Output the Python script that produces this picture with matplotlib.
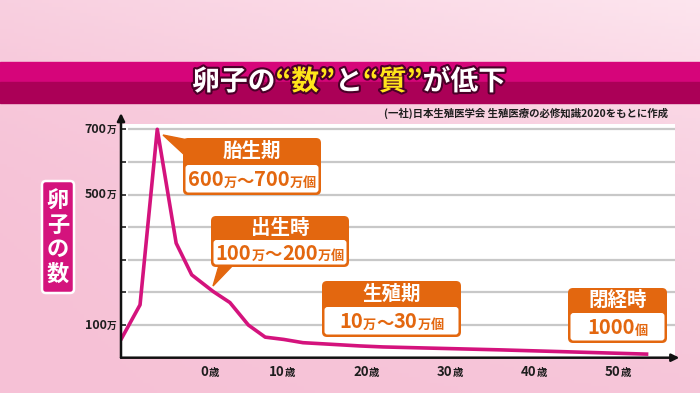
import matplotlib
matplotlib.use('Agg')
import matplotlib.pyplot as plt
import numpy as np
from matplotlib.patches import FancyBboxPatch, Polygon, Rectangle
from matplotlib.transforms import Affine2D
from matplotlib.offsetbox import TextArea, HPacker, AnnotationBbox
import matplotlib.patheffects as pe

plt.rcParams['font.family'] = ['Noto Sans CJK JP', 'DejaVu Sans']

# ---------------- data ----------------
ages = [-9.1, -6.9, -4.85, -2.6, -0.75, 1.8, 3.8, 6.0, 8.0, 10.2, 12.5, 19.3, 22.0, 36.0, 53.4]
counts = [59, 162, 700, 351, 254, 203, 169, 100, 63, 56, 46, 36, 33, 24, 11]   # 万個
ytick_values = [100, 200, 300, 400, 500, 600, 700]
ytick_labels = ['100', '', '', '', '500', '', '700']
xtick_pos = [1.4, 10, 20, 30, 40, 50]
xtick_labels = ['0', '10', '20', '30', '40', '50']
title_parts = ['卵子の', '“数”', 'と', '“質”', 'が低下']
source_text = '(一社)日本生殖医学会 生殖医療の必修知識2020をもとに作成'
ylabel_text = '卵子の数'
stage_names = ['胎生期', '出生時', '生殖期', '閉経時']
stage_ranges = [['600', '700'], ['100', '200'], ['10', '30'], ['1000']]

# ---------------- colours ----------------
MAGENTA = '#d4137d'
ORANGE = '#e3670f'
DARK = '#1e1e1e'

W, H = 700, 393
fig = plt.figure(figsize=(W / 100, H / 100), dpi=100)
# transform: pixel coordinates with origin top-left
P = Affine2D().scale(1 / 100, -1 / 100).translate(0, H / 100) + fig.dpi_scale_trans

# background gradient
bg = fig.add_axes([0, 0, 1, 1], zorder=-5)
bg.axis('off')
xx, yy = np.meshgrid(np.linspace(0, 1, 200), np.linspace(0, 1, 120))
w = np.clip(0.45 * xx * yy + 0.4 * yy ** 3 + 0.12 * xx, 0, 1)
c0 = np.array([246, 193, 214]) / 255
c1 = np.array([253, 230, 239]) / 255
img = c0[None, None, :] * (1 - w[..., None]) + c1[None, None, :] * w[..., None]
bg.imshow(img, extent=[0, 1, 0, 1], origin='lower', aspect='auto')
bg.set_xlim(0, 1); bg.set_ylim(0, 1)

# title band
fig.add_artist(Rectangle((0, 62), W, 20, transform=P, color='#d6057a', zorder=1))
fig.add_artist(Rectangle((0, 82), W, 21, transform=P, color='#ab0057', zorder=1))

stroke = [pe.withStroke(linewidth=3, foreground='#4a0028')]
tcolors = ['white', '#ffe51a', 'white', '#ffe51a', 'white']
areas = [TextArea(t, textprops=dict(color=c, fontsize=20, fontweight='bold', path_effects=stroke))
         for t, c in zip(title_parts, tcolors)]
pack = HPacker(children=areas, align='baseline', pad=0, sep=0)
fig.add_artist(AnnotationBbox(pack, (349, 82), xycoords=P, frameon=False,
                              box_alignment=(0.5, 0.5), zorder=3))

# source
fig.text(668 / W, 1 - 113 / H, source_text, ha='right', va='center', fontsize=7.5,
         fontweight='bold', color=DARK)

# ---------------- main axes ----------------
left, right, top, bottom = 121, 675, 124, 357.7
ax = fig.add_axes([left / W, 1 - bottom / H, (right - left) / W, (bottom - top) / H], zorder=0)
ax.set_facecolor('white')
px_per_year = 8.4
zero_px = 198
ax.set_xlim((left - zero_px) / px_per_year, (right - zero_px) / px_per_year)
ax.set_ylim(0, (bottom - top) / 32.63 * 100)
for s in ax.spines.values():
    s.set_visible(False)

ax.hlines(ytick_values, 0.013, 1, transform=ax.get_yaxis_transform(), color='#c8c8c8', lw=1.6, zorder=1)
ax.plot(ages, counts, color=MAGENTA, lw=2.6, zorder=3, solid_joinstyle='round')

ax.set_yticks(ytick_values)
ax.set_yticklabels([])
ax.tick_params(axis='y', direction='in', length=3.5, width=1.2, color=DARK)
ax.set_xticks([])

# axes arrows
arr = dict(arrowstyle='-|>,head_length=0.45,head_width=0.22', lw=1.8, color='#111', shrinkA=0, shrinkB=0)
ax.annotate('', xy=(0, 1.047), xytext=(0, 0), xycoords='axes fraction', arrowprops=arr, zorder=5)
ax.annotate('', xy=(1.008, 0), xytext=(0, 0), xycoords='axes fraction', arrowprops=arr, zorder=5)

# y tick labels (number + small 万)
for v, lab in zip(ytick_values, ytick_labels):
    if not lab:
        continue
    pk = HPacker(children=[TextArea(lab, textprops=dict(fontsize=9, fontweight='bold', color=DARK)),
                           TextArea('万', textprops=dict(fontsize=7, fontweight='bold', color=DARK))],
                 align='baseline', pad=0, sep=0)
    ax.add_artist(AnnotationBbox(pk, (0, v), xycoords=ax.get_yaxis_transform(), xybox=(-3.5, 0),
                                 boxcoords='offset points', frameon=False, box_alignment=(1, 0.5),
                                 annotation_clip=False))

# x tick labels (number + small 歳)
for xp, lab in zip(xtick_pos, xtick_labels):
    pk = HPacker(children=[TextArea(lab, textprops=dict(fontsize=9.5, fontweight='bold', color=DARK)),
                           TextArea('歳', textprops=dict(fontsize=7.5, fontweight='bold', color=DARK))],
                 align='baseline', pad=0, sep=0)
    ax.add_artist(AnnotationBbox(pk, (xp, 0), xycoords=ax.get_xaxis_transform(), xybox=(0, -10),
                                 boxcoords='offset points', frameon=False, box_alignment=(0.5, 0.5),
                                 annotation_clip=False))

# y label box
fig.add_artist(FancyBboxPatch((42, 181), 32, 112, boxstyle='round,pad=0,rounding_size=4',
                              transform=P, facecolor=MAGENTA, edgecolor='white', lw=1.8, zorder=2))
for k, ch in enumerate(ylabel_text):
    fig.text(58 / W, 1 - (201 + 24.3 * k) / H, ch, ha='center', va='center', fontsize=16,
             fontweight='bold', color='white', zorder=3)

# ---------------- stage boxes ----------------
boxes = [(183, 138, 321, 195, 165), (211, 216, 349, 267, 240),
         (322, 281, 461, 337, 307), (568, 288, 667, 343, 313)]
pointers = {0: [(163, 135), (188, 140), (190, 160)],
            1: [(213, 286), (220, 262), (236, 262)]}

for i, (name, rng, (x0, y0, x1, y1, yh)) in enumerate(zip(stage_names, stage_ranges, boxes)):
    if i in pointers:
        fig.add_artist(Polygon(pointers[i], closed=True, transform=P, color=ORANGE, zorder=4))
    fig.add_artist(FancyBboxPatch((x0, y0), x1 - x0, y1 - y0, boxstyle='round,pad=0,rounding_size=5',
                                  transform=P, facecolor=ORANGE, edgecolor='none', zorder=5))
    b = 2.5
    fig.add_artist(FancyBboxPatch((x0 + b, yh), x1 - x0 - 2 * b, y1 - yh - b,
                                  boxstyle='round,pad=0,rounding_size=3',
                                  transform=P, facecolor='white', edgecolor='none', zorder=6))
    head = TextArea(name, textprops=dict(fontsize=14, fontweight='bold', color='white'))
    fig.add_artist(AnnotationBbox(head, ((x0 + x1) / 2, (y0 + yh) / 2), xycoords=P, frameon=False,
                                  box_alignment=(0.5, 0.5), zorder=7))
    big = dict(fontsize=14.5, fontweight='bold', color=ORANGE)
    tilde = dict(fontsize=12.5, fontweight='bold', color=ORANGE)
    small = dict(fontsize=9.5, fontweight='bold', color=ORANGE)
    if len(rng) == 2:
        kids = [TextArea(rng[0], textprops=big), TextArea('万', textprops=small),
                TextArea('〜', textprops=tilde), TextArea(rng[1], textprops=big),
                TextArea('万', textprops=small), TextArea('個', textprops=small)]
    else:
        kids = [TextArea(rng[0], textprops=big), TextArea('個', textprops=small)]
    pk = HPacker(children=kids, align='baseline', pad=0, sep=0)
    fig.add_artist(AnnotationBbox(pk, ((x0 + x1) / 2, (yh + y1) / 2), xycoords=P, frameon=False,
                                  box_alignment=(0.5, 0.5), zorder=7))

fig.savefig('out.png', dpi=100)
